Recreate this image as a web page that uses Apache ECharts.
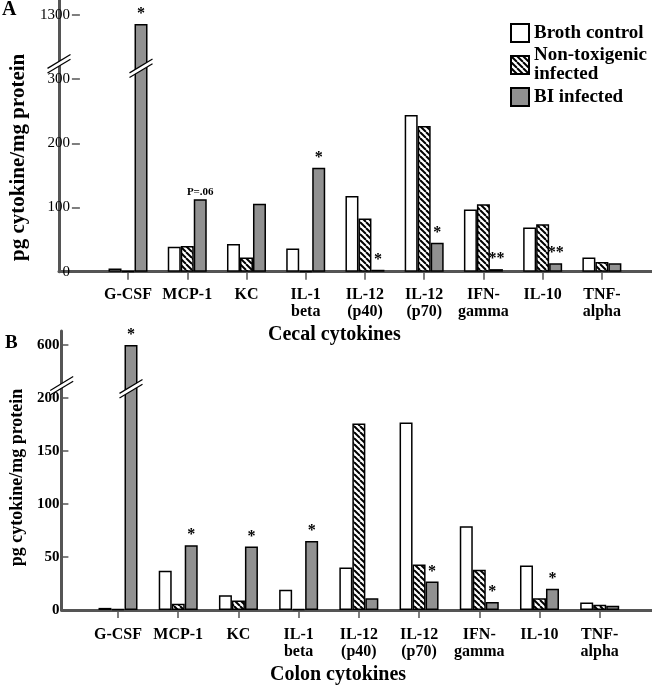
<!DOCTYPE html>
<html><head><meta charset="utf-8">
<script src="https://cdn.jsdelivr.net/npm/echarts@6/dist/echarts.min.js"></script>
<style>html,body{margin:0;padding:0;background:#fff}#c{width:652px;height:687px}</style>
</head><body><div id="c"></div>
<script>
// ---------- data ----------
const categories = ['G-CSF','MCP-1','KC','IL-1\nbeta','IL-12\n(p40)','IL-12\n(p70)','IFN-\ngamma','IL-10','TNF-\nalpha'];
const seriesNames = ['Broth control','Non-toxigenic\ninfected','BI infected'];

const cecalBroth  = [5, 39, 43, 36, 118, 244, 97, 69, 22];
const cecalNonTox = [1, 40, 22, 1, 83, 227, 105, 74, 15];
const cecalBI     = [1160, 113, 106, 162, 3, 45, 4, 13, 13];
const cecalMarks  = ['*','P=.06','','*','*','*','**','**',''];
const cecalTicks  = ['0','100','200','300','1300'];

const colonBroth  = [2, 37, 14, 19, 40, 177, 79, 42, 7];
const colonNonTox = [1, 6, 9, 1, 176, 43, 38, 11, 5];
const colonBI     = [600, 61, 60, 65, 11, 27, 7.5, 20, 4];
const colonMarks  = ['*','*','*','*','','*','*','*',''];
const colonTicks  = ['0','50','100','150','200','600'];

// broken value axes: values above "at" are compressed by "factor"
const cecalBreak = {at: 300, factor: 10};
const colonBreak = {at: 200, factor: 8};
function squash(v, b) { return v <= b.at ? v : b.at + (v - b.at) / b.factor; }

// ---------- styles ----------
const FONT = '"Liberation Serif", "Times New Roman", serif';
const AXIS_COLOR = '#555';
const GRAY = '#919191';
const BAR_W = 13;

const pc = document.createElement('canvas');
pc.width = 6; pc.height = 6;
const g = pc.getContext('2d');
g.fillStyle = '#fff'; g.fillRect(0, 0, 6, 6);
g.strokeStyle = '#000'; g.lineWidth = 2;
for (let k = -1; k <= 1; k++) { g.beginPath(); g.moveTo(k * 6, 0); g.lineTo(k * 6 + 6, 6); g.stroke(); }
const hatch = {image: pc, repeat: 'repeat'};

function breakMark(xOffset, halfW) {
  return function (params, api) {
    const pt = api.coord([api.value(0), api.value(1)]);
    const x = pt[0] + xOffset, y = pt[1];
    const dy = halfW * 0.6, sep = 2.3;
    const a1 = [x - halfW, y + dy - sep], a2 = [x + halfW, y - dy - sep];
    const b1 = [x - halfW, y + dy + sep], b2 = [x + halfW, y - dy + sep];
    return {type: 'group', children: [
      {type: 'polygon', shape: {points: [a1, a2, b2, b1]}, style: {fill: '#fff'}},
      {type: 'line', shape: {x1: a1[0], y1: a1[1], x2: a2[0], y2: a2[1]}, style: {stroke: '#000', lineWidth: 1.2}},
      {type: 'line', shape: {x1: b1[0], y1: b1[1], x2: b2[0], y2: b2[1]}, style: {stroke: '#000', lineWidth: 1.2}}
    ]};
  };
}

const grids = [], xAxes = [], yAxes = [], series = [];

function buildPanel(cfg) {
  const gi = grids.length;
  // outer grid: axis lines only
  grids.push({left: cfg.axisX, right: 0, top: cfg.lineTop, bottom: 687 - cfg.zeroY});
  // inner grid: bars
  grids.push({left: cfg.innerLeft, right: cfg.innerRight, top: cfg.innerTop, bottom: 687 - cfg.zeroY});
  const lineStyle = {color: AXIS_COLOR, width: 3};
  xAxes.push({gridIndex: gi, type: 'value', min: 0, max: 1,
    axisLine: {show: true, onZero: false, lineStyle}, axisTick: {show: false}, axisLabel: {show: false}, splitLine: {show: false}});
  const uMax = squash(cfg.max, cfg.brk);
  const pxPerU = (cfg.zeroY - cfg.innerTop) / uMax;
  yAxes.push({gridIndex: gi, type: 'value', min: 0, max: (cfg.zeroY - cfg.lineTop) / pxPerU,
    axisLine: {show: true, onZero: false, lineStyle}, axisTick: {show: false}, axisLabel: {show: false}, splitLine: {show: false}});
  xAxes.push({gridIndex: gi + 1, type: 'category', data: categories,
    axisLine: {show: false},
    axisTick: {show: true, alignWithLabel: true, length: 8, lineStyle: {color: AXIS_COLOR, width: 1.5}},
    axisLabel: {interval: 0, margin: cfg.labelMargin, fontFamily: FONT, fontWeight: 'bold', fontSize: 16, lineHeight: 17, color: '#000'},
    splitLine: {show: false}});
  yAxes.push({gridIndex: gi + 1, type: 'value', min: 0, max: uMax, interval: cfg.interval,
    offset: cfg.innerLeft - cfg.axisX,
    axisLine: {show: false},
    axisTick: {show: true, length: 8, lineStyle: {color: AXIS_COLOR, width: 1.5}},
    axisLabel: {margin: cfg.tickMargin, formatter: (v, i) => cfg.ticks[i], fontFamily: FONT,
      fontWeight: cfg.tickWeight, fontSize: 15, color: '#000'},
    splitLine: {show: false},
    name: 'pg cytokine/mg protein', nameLocation: 'middle', nameGap: cfg.nameGap,
    nameTextStyle: {fontFamily: FONT, fontWeight: 'bold', fontSize: cfg.nameSize, color: '#000', padding: cfg.namePad}
  });
  const common = {type: 'bar', xAxisIndex: gi + 1, yAxisIndex: gi + 1, barWidth: BAR_W, barGap: '0%'};
  series.push(Object.assign({}, common, {name: seriesNames[0],
    data: cfg.broth.map(v => squash(v, cfg.brk)),
    itemStyle: {color: '#fff', borderColor: '#000', borderWidth: 1.5}}));
  series.push(Object.assign({}, common, {name: seriesNames[1],
    data: cfg.nonTox.map(v => squash(v, cfg.brk)),
    itemStyle: {color: hatch, borderColor: '#000', borderWidth: 1.5}}));
  series.push(Object.assign({}, common, {name: seriesNames[2],
    data: cfg.bi.map(v => squash(v, cfg.brk)),
    itemStyle: {color: GRAY, borderColor: '#000', borderWidth: 1.5},
    label: {show: true, position: 'top', distance: 2, color: '#000', fontFamily: FONT, fontWeight: 'bold', fontSize: 16,
      formatter: p => { const m = cfg.marks[p.dataIndex]; return m.charAt(0) === 'P' ? '{p|' + m + '}' : m; },
      rich: {p: {fontSize: 11, fontWeight: 'bold', fontFamily: FONT, color: '#000'}}}}));
  series.push({type: 'custom', xAxisIndex: gi, yAxisIndex: gi, z: 10, silent: true,
    renderItem: breakMark(0, 11.5), data: [[0, cfg.axisBreakU]]});
  series.push({type: 'custom', xAxisIndex: gi + 1, yAxisIndex: gi + 1, z: 10, silent: true,
    renderItem: breakMark(BAR_W, 11.5), data: [[0, cfg.barBreakU]]});
}

buildPanel({axisX: 59, lineTop: 0, zeroY: 271.7, innerTop: 15, innerLeft: 77.5, innerRight: 20.5,
  max: 1300, brk: cecalBreak, interval: 100, ticks: cecalTicks, tickWeight: 'normal', tickMargin: 10,
  labelMargin: 15, nameGap: 30, nameSize: 21, namePad: [0, 28, 0, 0],
  broth: cecalBroth, nonTox: cecalNonTox, bi: cecalBI, marks: cecalMarks,
  axisBreakU: 324, barBreakU: 317});
buildPanel({axisX: 61.7, lineTop: 331, zeroY: 610, innerTop: 345, innerLeft: 81.2, innerRight: 22.2,
  max: 600, brk: colonBreak, interval: 50, ticks: colonTicks, tickWeight: 'bold', tickMargin: 9,
  labelMargin: 16, nameGap: 33, nameSize: 18, namePad: [0, 0, 0, 0],
  broth: colonBroth, nonTox: colonNonTox, bi: colonBI, marks: colonMarks,
  axisBreakU: 211.5, barBreakU: 208.7});

const chart = echarts.init(document.getElementById('c'), null, {renderer: 'canvas'});
chart.setOption({
  animation: false,
  backgroundColor: '#fff',
  title: [
    {text: 'A', left: 2, top: 0, padding: 0, textStyle: {fontFamily: FONT, fontWeight: 'bold', fontSize: 20, color: '#000'}},
    {text: 'B', left: 5, top: 334, padding: 0, textStyle: {fontFamily: FONT, fontWeight: 'bold', fontSize: 19, color: '#000'}},
    {text: 'Cecal cytokines', left: 268, top: 325, padding: 0, textStyle: {fontFamily: FONT, fontWeight: 'bold', fontSize: 20, color: '#000'}},
    {text: 'Colon cytokines', left: 270, top: 665, padding: 0, textStyle: {fontFamily: FONT, fontWeight: 'bold', fontSize: 20, color: '#000'}}
  ],
  legend: {orient: 'vertical', left: 510, top: 23, padding: 0, itemWidth: 18, itemHeight: 18, itemGap: 3, icon: 'rect',
    data: seriesNames,
    textStyle: {fontFamily: FONT, fontWeight: 'bold', fontSize: 19, lineHeight: 19, color: '#000'}},
  grid: grids, xAxis: xAxes, yAxis: yAxes, series: series
});
</script></body></html>
